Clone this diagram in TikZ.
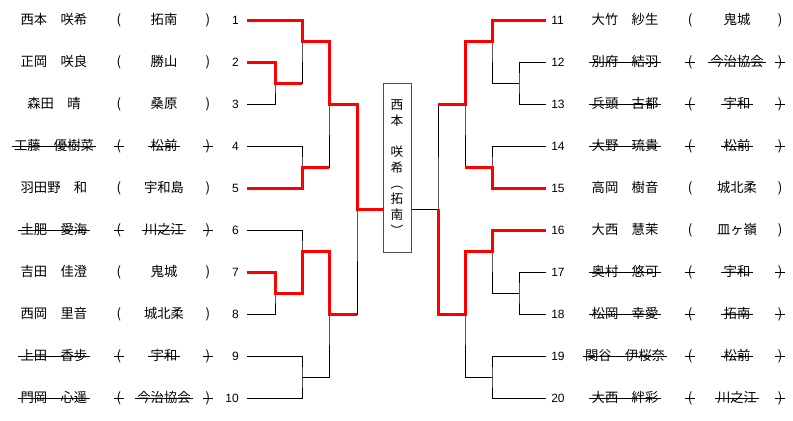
\documentclass[tikz,border=0pt]{standalone}
\usepackage{fontspec}
\newfontfamily\cjk{Noto Sans CJK JP}
\newfontfamily\digits{Liberation Sans}

\begin{document}
\begin{tikzpicture}[x=0.75pt,y=-0.75pt,line join=miter,
  tie/.style={line width=0.75pt},
  win/.style={line width=2.25pt,red},
  cell/.style={font=\cjk\fontsize{10}{12}\selectfont,inner xsep=1.5pt,inner ysep=0pt,text height=8.5pt,text depth=1.5pt},
  num/.style={font=\digits\fontsize{9}{11}\selectfont,inner sep=0pt,text height=8.5pt,text depth=1.5pt},
  gone/.style={append after command={(\tikzlastnode.west) edge[line width=0.75pt] (\tikzlastnode.east)}},
  box/.style={draw=black!70,fill=white,line width=0.75pt,minimum width=21pt,minimum height=126.75pt,inner sep=0pt,align=center,font=\cjk\fontsize{9.5}{11.8}\selectfont}]
  \useasboundingbox (0,0) rectangle (793,421);
  % left entries
  \node[cell] (nm1) at (54,20) {西本　咲希}; \node[cell] (lp1) at (119,20) {(}; \node[cell] (sc1) at (164,20) {拓南}; \node[cell] (rp1) at (208,20) {)}; \node[num,anchor=east] (no1) at (239,20) {1};
  \node[cell] (nm2) at (54,62) {正岡　咲良}; \node[cell] (lp2) at (119,62) {(}; \node[cell] (sc2) at (164,62) {勝山}; \node[cell] (rp2) at (208,62) {)}; \node[num,anchor=east] (no2) at (239,62) {2};
  \node[cell] (nm3) at (54,104) {森田　晴}; \node[cell] (lp3) at (119,104) {(}; \node[cell] (sc3) at (164,104) {桑原}; \node[cell] (rp3) at (208,104) {)}; \node[num,anchor=east] (no3) at (239,104) {3};
  \node[cell,gone] (nm4) at (54,146) {工藤　優樹菜}; \node[cell,gone] (lp4) at (119,146) {(}; \node[cell,gone] (sc4) at (164,146) {松前}; \node[cell,gone] (rp4) at (208,146) {)}; \node[num,anchor=east] (no4) at (239,146) {4};
  \node[cell] (nm5) at (54,188) {羽田野　和}; \node[cell] (lp5) at (119,188) {(}; \node[cell] (sc5) at (164,188) {宇和島}; \node[cell] (rp5) at (208,188) {)}; \node[num,anchor=east] (no5) at (239,188) {5};
  \node[cell,gone] (nm6) at (54,230) {土肥　愛海}; \node[cell,gone] (lp6) at (119,230) {(}; \node[cell,gone] (sc6) at (164,230) {川之江}; \node[cell,gone] (rp6) at (208,230) {)}; \node[num,anchor=east] (no6) at (239,230) {6};
  \node[cell] (nm7) at (54,272) {吉田　佳澄}; \node[cell] (lp7) at (119,272) {(}; \node[cell] (sc7) at (164,272) {鬼城}; \node[cell] (rp7) at (208,272) {)}; \node[num,anchor=east] (no7) at (239,272) {7};
  \node[cell] (nm8) at (54,314) {西岡　里音}; \node[cell] (lp8) at (119,314) {(}; \node[cell] (sc8) at (164,314) {城北柔}; \node[cell] (rp8) at (208,314) {)}; \node[num,anchor=east] (no8) at (239,314) {8};
  \node[cell,gone] (nm9) at (54,356) {上田　香歩}; \node[cell,gone] (lp9) at (119,356) {(}; \node[cell,gone] (sc9) at (164,356) {宇和}; \node[cell,gone] (rp9) at (208,356) {)}; \node[num,anchor=east] (no9) at (239,356) {9};
  \node[cell,gone] (nm10) at (54,398) {門岡　心遥}; \node[cell,gone] (lp10) at (119,398) {(}; \node[cell,gone] (sc10) at (164,398) {今治協会}; \node[cell,gone] (rp10) at (208,398) {)}; \node[num,anchor=east] (no10) at (239,398) {10};
  % right entries
  \node[num,anchor=west] (no11) at (551,20) {11}; \node[cell] (nm11) at (625,20) {大竹　紗生}; \node[cell] (lp11) at (690,20) {(}; \node[cell] (sc11) at (737,20) {鬼城}; \node[cell] (rp11) at (780,20) {)};
  \node[num,anchor=west] (no12) at (551,62) {12}; \node[cell,gone] (nm12) at (625,62) {別府　結羽}; \node[cell,gone] (lp12) at (690,62) {(}; \node[cell,gone] (sc12) at (737,62) {今治協会}; \node[cell,gone] (rp12) at (780,62) {)};
  \node[num,anchor=west] (no13) at (551,104) {13}; \node[cell,gone] (nm13) at (625,104) {兵頭　古都}; \node[cell,gone] (lp13) at (690,104) {(}; \node[cell,gone] (sc13) at (737,104) {宇和}; \node[cell,gone] (rp13) at (780,104) {)};
  \node[num,anchor=west] (no14) at (551,146) {14}; \node[cell,gone] (nm14) at (625,146) {大野　琉貴}; \node[cell,gone] (lp14) at (690,146) {(}; \node[cell,gone] (sc14) at (737,146) {松前}; \node[cell,gone] (rp14) at (780,146) {)};
  \node[num,anchor=west] (no15) at (551,188) {15}; \node[cell] (nm15) at (625,188) {高岡　樹音}; \node[cell] (lp15) at (690,188) {(}; \node[cell] (sc15) at (737,188) {城北柔}; \node[cell] (rp15) at (780,188) {)};
  \node[num,anchor=west] (no16) at (551,230) {16}; \node[cell] (nm16) at (625,230) {大西　慧茉}; \node[cell] (lp16) at (690,230) {(}; \node[cell] (sc16) at (737,230) {皿ヶ嶺}; \node[cell] (rp16) at (780,230) {)};
  \node[num,anchor=west] (no17) at (551,272) {17}; \node[cell,gone] (nm17) at (625,272) {奥村　悠可}; \node[cell,gone] (lp17) at (690,272) {(}; \node[cell,gone] (sc17) at (737,272) {宇和}; \node[cell,gone] (rp17) at (780,272) {)};
  \node[num,anchor=west] (no18) at (551,314) {18}; \node[cell,gone] (nm18) at (625,314) {松岡　幸愛}; \node[cell,gone] (lp18) at (690,314) {(}; \node[cell,gone] (sc18) at (737,314) {拓南}; \node[cell,gone] (rp18) at (780,314) {)};
  \node[num,anchor=west] (no19) at (551,356) {19}; \node[cell,gone] (nm19) at (625,356) {関谷　伊桜奈}; \node[cell,gone] (lp19) at (690,356) {(}; \node[cell,gone] (sc19) at (737,356) {松前}; \node[cell,gone] (rp19) at (780,356) {)};
  \node[num,anchor=west] (no20) at (551,398) {20}; \node[cell,gone] (nm20) at (625,398) {大西　絆彩}; \node[cell,gone] (lp20) at (690,398) {(}; \node[cell,gone] (sc20) at (737,398) {川之江}; \node[cell,gone] (rp20) at (780,398) {)};
  % champion
  \node[box] (champ) at (397,167.5) {西\\本\\\mbox{}\\咲\\希\\︵\\拓\\南\\︶};
  % line ends and match points
  \foreach \i in {1,...,10} {\coordinate (L\i) at ([xshift=6pt]no\i.east);}
  \foreach \i in {11,...,20} {\coordinate (R\i) at ([xshift=-3.75pt]no\i.west);}
  \coordinate (a1) at (275,83);  \coordinate (a2) at (302,41);  \coordinate (a3) at (302,167);
  \coordinate (a4) at (329,104); \coordinate (a5) at (275,293); \coordinate (a6) at (302,251);
  \coordinate (a7) at (302,377); \coordinate (a8) at (329,314); \coordinate (a9) at (357,209);
  \coordinate (b1) at (519,83);  \coordinate (b2) at (492,41);  \coordinate (b3) at (492,167);
  \coordinate (b4) at (465,104); \coordinate (b5) at (519,293); \coordinate (b6) at (492,251);
  \coordinate (b7) at (492,377); \coordinate (b8) at (465,314); \coordinate (b9) at (438,209);
  % bracket
  \draw[tie] (L2) -| (a1) |- (L3);
  \draw[tie] (L1) -| (a2) |- (a1);
  \draw[tie] (L4) -| (a3) |- (L5);
  \draw[tie] (a2) -| (a4) |- (a3);
  \draw[tie] (L7) -| (a5) |- (L8);
  \draw[tie] (L6) -| (a6) |- (a5);
  \draw[tie] (L9) -| (a7) |- (L10);
  \draw[tie] (a6) -| (a8) |- (a7);
  \draw[tie] (a4) -| (a9) |- (a8);
  \draw[tie] (a9) -- (a9 -| champ.west);
  \draw[tie] (R12) -| (b1) |- (R13);
  \draw[tie] (R11) -| (b2) |- (b1);
  \draw[tie] (R14) -| (b3) |- (R15);
  \draw[tie] (b2) -| (b4) |- (b3);
  \draw[tie] (R17) -| (b5) |- (R18);
  \draw[tie] (R16) -| (b6) |- (b5);
  \draw[tie] (R19) -| (b7) |- (R20);
  \draw[tie] (b6) -| (b8) |- (b7);
  \draw[tie] (b4) -| (b9) |- (b8);
  \draw[tie] (b9) -- (b9 -| champ.east);
  % winners
  \draw[win] (L1) -| (a2) -| (a4) -| (a9) -- (a9 -| champ.west);
  \draw[win] (L2) -| (a1) -- (a1 -| a2);
  \draw[win] (L5) -| (a3) -- (a3 -| a4);
  \draw[win] (L7) -| (a5) -| (a6) -| (a8) -- (a8 -| a9);
  \draw[win] (R11) -| (b2) -| (b4) -- (b4 -| b9);
  \draw[win] (R15) -| (b3) -- (b3 -| b4);
  \draw[win] (R16) -| (b6) -| (b8) -| (b9);
\end{tikzpicture}
\end{document}
